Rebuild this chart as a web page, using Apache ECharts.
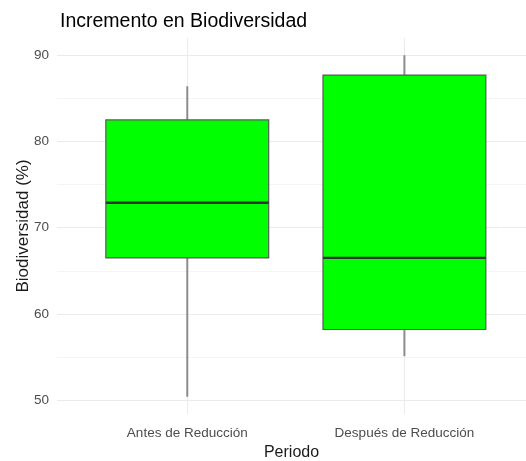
<!DOCTYPE html>
<html>
<head>
<meta charset="utf-8">
<script src="https://cdn.jsdelivr.net/npm/echarts@6/dist/echarts.min.js"></script>
<style>
  html, body { margin: 0; padding: 0; background: #fff; }
  #chart { width: 526px; height: 461px; }
</style>
</head>
<body>
<div id="chart"></div>
<script>
// datos
const periodos = ['Antes de Reducción', 'Después de Reducción'];
const posiciones = [1, 2];
const minimos = [50.4, 55.1];
const cuartil1 = [66.5, 58.2];
const medianas = [72.9, 66.5];
const cuartil3 = [82.5, 87.7];
const maximos = [86.4, 90.0];

const anchoCaja = 0.75; // ancho de caja en unidades del eje x (como ggplot)
const fuente = 'Liberation Sans, Arial, sans-serif';

const datos = periodos.map((p, i) => [posiciones[i], minimos[i], cuartil1[i], medianas[i], cuartil3[i], maximos[i]]);

function renderCaja (params, api) {
  const x = api.value(0);
  const pMin = api.coord([x, api.value(1)]);
  const pQ1 = api.coord([x, api.value(2)]);
  const pMed = api.coord([x, api.value(3)]);
  const pQ3 = api.coord([x, api.value(4)]);
  const pMax = api.coord([x, api.value(5)]);
  const mitad = api.size([anchoCaja, 0])[0] / 2;
  const cx = pMin[0];
  const bigote = { stroke: '#8c8c8c', lineWidth: 2 };
  return {
    type: 'group',
    children: [
      { type: 'line', shape: { x1: cx, y1: pMax[1], x2: cx, y2: pQ3[1] }, style: bigote },
      { type: 'line', shape: { x1: cx, y1: pQ1[1], x2: cx, y2: pMin[1] }, style: bigote },
      {
        type: 'rect',
        shape: { x: cx - mitad, y: pQ3[1], width: mitad * 2, height: pQ1[1] - pQ3[1] },
        style: { fill: '#00ff00', stroke: '#595959', lineWidth: 1.2 }
      },
      {
        type: 'line',
        shape: { x1: cx - mitad, y1: pMed[1], x2: cx + mitad, y2: pMed[1] },
        style: { stroke: '#333333', lineWidth: 2.4 }
      }
    ]
  };
}

const chart = echarts.init(document.getElementById('chart'));

const option = {
  backgroundColor: '#ffffff',
  animation: false,
  title: {
    text: 'Incremento en Biodiversidad',
    left: 55,
    top: 7,
    textStyle: { fontFamily: fuente, fontSize: 19.5, fontWeight: 'normal', color: '#000' }
  },
  grid: { left: 57, right: 0, top: 38, bottom: 47, outerBoundsMode: 'none', containLabel: false },
  xAxis: {
    type: 'value',
    min: 0.4,
    max: 2.56,
    minInterval: 1,
    maxInterval: 1,
    name: 'Periodo',
    nameLocation: 'middle',
    nameGap: 31,
    nameMoveOverlap: false,
    nameTextStyle: { fontFamily: fuente, fontSize: 16, color: '#1a1a1a' },
    axisLine: { show: false },
    axisTick: { show: false },
    axisLabel: {
      showMinLabel: false,
      showMaxLabel: false,
      margin: 12,
      fontFamily: fuente,
      fontSize: 13.5,
      color: '#4d4d4d',
      formatter: v => periodos[posiciones.indexOf(v)] || ''
    },
    splitLine: { show: true, showMinLine: false, showMaxLine: false, lineStyle: { color: '#ebebeb', width: 1 } }
  },
  yAxis: {
    type: 'value',
    min: 48.4,
    max: 92.0,
    minInterval: 10,
    maxInterval: 10,
    name: 'Biodiversidad (%)',
    nameLocation: 'middle',
    nameGap: 25,
    nameMoveOverlap: false,
    nameTextStyle: { fontFamily: fuente, fontSize: 17, color: '#1a1a1a' },
    axisLine: { show: false },
    axisTick: { show: false },
    axisLabel: {
      showMinLabel: false,
      showMaxLabel: false,
      margin: 8,
      fontFamily: fuente,
      fontSize: 13.5,
      color: '#4d4d4d'
    },
    splitLine: { show: true, showMinLine: false, showMaxLine: false, lineStyle: { color: '#ebebeb', width: 1 } },
    minorTick: { show: false, splitNumber: 2 },
    minorSplitLine: { show: true, lineStyle: { color: '#f4f4f4', width: 1 } }
  },
  series: [{
    type: 'custom',
    renderItem: renderCaja,
    encode: { x: 0, y: [1, 2, 3, 4, 5] },
    data: datos
  }]
};

chart.setOption(option);
</script>
</body>
</html>
